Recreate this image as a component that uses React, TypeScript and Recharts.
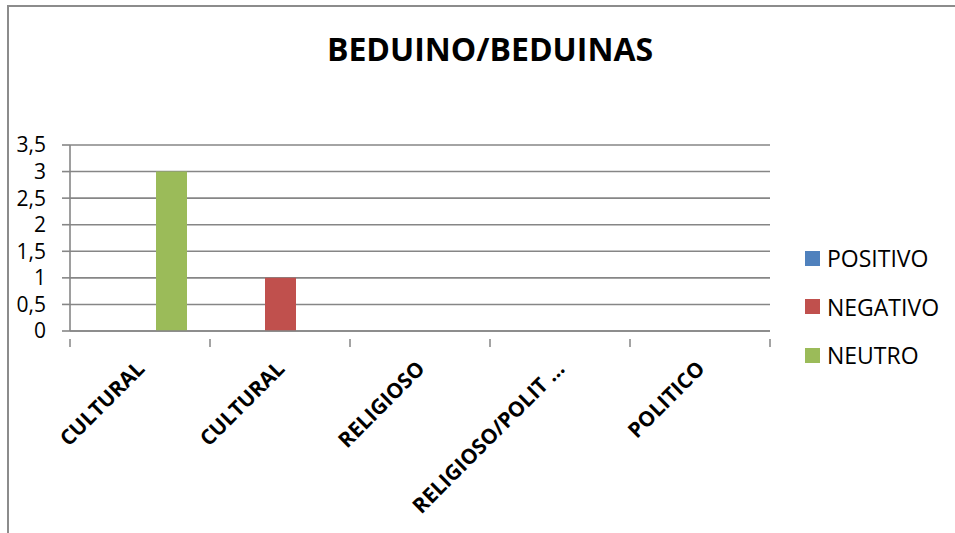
import React from 'react';
import { BarChart, Bar, XAxis, YAxis, CartesianGrid } from 'recharts';

const categories = ['CULTURAL', 'CULTURAL', 'RELIGIOSO', 'RELIGIOSO/POLIT …', 'POLITICO'];
const positivo = [0, 0, 0, 0, 0];
const negativo = [0, 1, 0, 0, 0];
const neutro = [3, 0, 0, 0, 0];
const yTicks = [0, 0.5, 1, 1.5, 2, 2.5, 3, 3.5];

const seriesList = [
    { key: 'POSITIVO', color: '#4F81BD' },
    { key: 'NEGATIVO', color: '#C0504D' },
    { key: 'NEUTRO', color: '#9BBB59' },
];

const data = categories.map((name, i) => ({
    name,
    POSITIVO: positivo[i],
    NEGATIVO: negativo[i],
    NEUTRO: neutro[i],
}));

const FONT = '"Open Sans", "Noto Sans", sans-serif';
const GRID = '#868686';

const CategoryTick = (props: any) => {
    const { x, y, payload, index, visibleTicksCount } = props;
    const half = payload?.offset ?? 70;
    const last = index === (visibleTicksCount ?? categories.length) - 1;
    return (
        <g>
            <line x1={x - half} y1={y} x2={x - half} y2={y + 8} stroke={GRID} strokeWidth={1.5} />
            {last && <line x1={x + half} y1={y} x2={x + half} y2={y + 8} stroke={GRID} strokeWidth={1.5} />}
            <text
                x={x + 6}
                y={y + 31}
                transform={`rotate(-45, ${x + 6}, ${y + 31})`}
                textAnchor="end"
                fontFamily={FONT}
                fontWeight={700}
                fontSize={21}
                fill="#000"
            >
                {payload.value}
            </text>
        </g>
    );
};

const LegendBox = () => (
    <div style={{ position: 'absolute', left: 805, top: 234, fontFamily: FONT, fontSize: 23, color: '#000' }}>
        {seriesList.map((s) => (
            <div key={s.key} style={{ display: 'flex', alignItems: 'center', height: 48.5 }}>
                <span style={{ width: 15, height: 15, background: s.color, display: 'inline-block', marginRight: 7 }} />
                <span>{s.key}</span>
            </div>
        ))}
    </div>
);

const App: React.FC = () => {
    return (
        <div style={{ position: 'absolute', left: 0, top: 0, width: 955, height: 533, overflow: 'hidden', background: '#fff' }}>
            <div
                style={{
                    position: 'absolute',
                    left: 7,
                    top: 5,
                    width: 1000,
                    height: 600,
                    border: '2px solid #8c8c8c',
                    boxSizing: 'border-box',
                }}
            />
            <div
                style={{
                    position: 'absolute',
                    left: 0,
                    width: 980,
                    top: 27,
                    textAlign: 'center',
                    fontFamily: FONT,
                    fontWeight: 700,
                    fontSize: 32,
                    color: '#000',
                }}
            >
                BEDUINO/BEDUINAS
            </div>
            <div style={{ position: 'absolute', left: 0, top: 0 }}>
                <BarChart
                    width={955}
                    height={533}
                    data={data}
                    margin={{ top: 145, right: 185, left: 0, bottom: 52 }}
                    barGap={0}
                    barSize={31}
                >
                    <CartesianGrid vertical={false} stroke={GRID} strokeWidth={1.6} />
                    <XAxis
                        dataKey="name"
                        height={150}
                        interval={0}
                        axisLine={{ stroke: GRID, strokeWidth: 1.6 }}
                        tickLine={false}
                        tick={<CategoryTick />}
                    />
                    <YAxis
                        width={70}
                        domain={[0, 3.5]}
                        ticks={yTicks}
                        interval={0}
                        axisLine={{ stroke: GRID, strokeWidth: 1.6 }}
                        tickLine={{ stroke: GRID, strokeWidth: 1.6 }}
                        tickSize={8}
                        tickMargin={16}
                        tickFormatter={(v: number) => String(v).replace('.', ',')}
                        tick={{ fontFamily: FONT, fontSize: 21, fill: '#000' }}
                    />
                    {seriesList.map((s) => (
                        <Bar key={s.key} dataKey={s.key} fill={s.color} isAnimationActive={false} />
                    ))}
                </BarChart>
            </div>
            <LegendBox />
        </div>
    );
};

export default App;
